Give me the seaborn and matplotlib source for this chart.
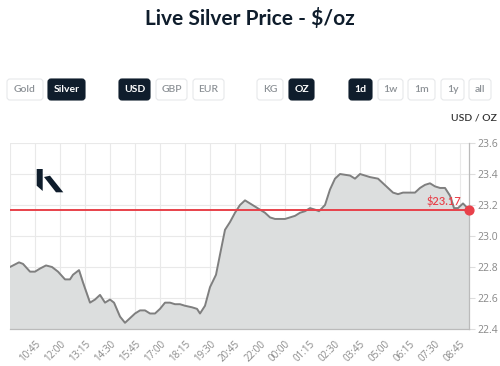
import matplotlib
matplotlib.use("Agg")
import matplotlib.pyplot as plt
import numpy as np
import pandas as pd
import seaborn as sns
from matplotlib.patches import FancyBboxPatch, Polygon

# minutes since the first point (09:30) and the silver price
minutes = [0, 27, 39, 60, 75, 90, 108, 126, 144, 165, 180, 189, 207, 219, 240,
           255, 270, 285, 300, 312, 330, 345, 360, 375, 390, 405, 420, 435, 450,
           465, 480, 495, 510, 525, 546, 561, 570, 585, 600, 618, 630, 645, 660,
           675, 690, 705, 720, 735, 750, 765, 780, 795, 825, 840, 855, 870, 885,
           900, 915, 927, 936, 945, 960, 975, 990, 1020, 1035, 1050, 1065, 1080,
           1104, 1119, 1134, 1149, 1164, 1179, 1194, 1215, 1230, 1245, 1260,
           1275, 1290, 1305, 1320, 1332, 1344, 1359, 1377]
price = [22.80, 22.83, 22.82, 22.77, 22.77, 22.79, 22.81, 22.80, 22.77, 22.72,
         22.72, 22.75, 22.78, 22.70, 22.57, 22.59, 22.62, 22.57, 22.59, 22.57,
         22.48, 22.44, 22.47, 22.50, 22.52, 22.52, 22.50, 22.50, 22.53, 22.57,
         22.57, 22.56, 22.56, 22.55, 22.54, 22.53, 22.50, 22.55, 22.67, 22.75,
         22.88, 23.04, 23.09, 23.15, 23.20, 23.23, 23.21, 23.19, 23.17, 23.15,
         23.12, 23.11, 23.11, 23.12, 23.13, 23.15, 23.16, 23.18, 23.17, 23.16,
         23.18, 23.20, 23.30, 23.37, 23.40, 23.39, 23.37, 23.40, 23.39, 23.38,
         23.37, 23.34, 23.31, 23.28, 23.27, 23.28, 23.28, 23.28, 23.31, 23.33,
         23.34, 23.32, 23.31, 23.31, 23.26, 23.18, 23.18, 23.21, 23.17]
last_price = 23.17

tick_minutes = [75 * i for i in range(19)]
tick_labels = ["", "10:45", "12:00", "13:15", "14:30", "15:45", "17:00", "18:15",
               "19:30", "20:45", "22:00", "00:00", "01:15", "02:30", "03:45",
               "05:00", "06:15", "07:30", "08:45"]
y_ticks = [22.4, 22.6, 22.8, 23.0, 23.2, 23.4, 23.6]

buttons = ["Gold", "Silver", "USD", "GBP", "EUR", "KG", "OZ", "1d", "1w", "1m", "1y", "all"]
selected = ["Silver", "USD", "OZ", "1d"]

df = pd.DataFrame({"minute": minutes, "price": price})

sns.set_theme(style="white")
plt.rcParams["font.family"] = ["Lato", "DejaVu Sans"]

NAVY = "#0f1d2c"
RED = "#e8414a"

fig = plt.figure(figsize=(5, 3.66), dpi=100)
ax = fig.add_axes([10 / 500, 1 - 329 / 366, 459 / 500, 186 / 366])

ax.fill_between(df["minute"], df["price"], 22.4, color="#dcdede", zorder=1)
sns.lineplot(data=df, x="minute", y="price", ax=ax, color="#7f7f7f", lw=1.4, zorder=3)
ax.axhline(last_price, color=RED, lw=1.4, zorder=4)
ax.scatter([minutes[-1]], [last_price], s=40, color=RED, zorder=6, clip_on=False)
ax.text(minutes[-1] - 24, last_price + 0.015, "$23.17", color=RED, fontsize=8,
        ha="right", va="bottom", fontweight="semibold", zorder=5)

ax.set_xlim(0, 1377)
ax.set_ylim(22.4, 23.6)
ax.set_xticks(tick_minutes)
ax.set_xticklabels(tick_labels, rotation=45, ha="right", rotation_mode="anchor",
                   fontsize=7, color="#888888", family="Open Sans")
ax.set_yticks(y_ticks)
ax.set_yticklabels([f"{v:.1f}" for v in y_ticks], fontsize=7.5, color="#888888",
                   family="Open Sans")
ax.yaxis.tick_right()
ax.tick_params(axis="both", length=4, color="#dddddd", width=0.8)
ax.tick_params(axis="x", pad=3)
ax.tick_params(axis="y", pad=2)
ax.grid(True, color="#e9e9e9", lw=0.8, zorder=0)
ax.set_axisbelow(True)
ax.set_xlabel("")
ax.set_ylabel("")
for side in ["top", "left"]:
    ax.spines[side].set_visible(False)
for side in ["right", "bottom"]:
    ax.spines[side].set_color("#bbbbbb")
    ax.spines[side].set_linewidth(0.9)

# overlay in pixel coordinates for header, buttons and logo
ov = fig.add_axes([0, 0, 1, 1], facecolor="none")
ov.set_xlim(0, 500)
ov.set_ylim(366, 0)
ov.axis("off")

ov.text(250, 18, "Live Silver Price - $/oz", ha="center", va="center",
        fontsize=15, fontweight="bold", color=NAVY)

btn_x = [(7, 43), (48, 85), (119, 150), (156, 187), (193, 224), (257, 283),
         (289, 314), (349, 372), (378, 403), (408, 435), (441, 464), (469, 491)]
for name, (x0, x1) in zip(buttons, btn_x):
    on = name in selected
    ov.add_patch(FancyBboxPatch((x0, 79), x1 - x0, 21,
                                boxstyle="round,pad=0,rounding_size=3",
                                fc=NAVY if on else "white",
                                ec=NAVY if on else "#e6e8ea", lw=0.8))
    ov.text((x0 + x1) / 2, 89.5, name, ha="center", va="center", fontsize=7.5,
            fontweight="bold" if on else "semibold",
            color="white" if on else "#8c9196")

ov.text(497, 118, "USD / OZ", ha="right", va="center", fontsize=7.5,
        color="#333333", fontweight="semibold")

# logo
ov.add_patch(Polygon([(36.7, 169), (42.7, 169), (42.7, 191), (36.7, 185.7)],
                     closed=True, fc=NAVY, ec="none"))
ov.add_patch(Polygon([(44, 177), (50, 175.7), (63.3, 192.3), (56, 192.3)],
                     closed=True, fc=NAVY, ec="none"))

fig.savefig("out.png", dpi=100)
